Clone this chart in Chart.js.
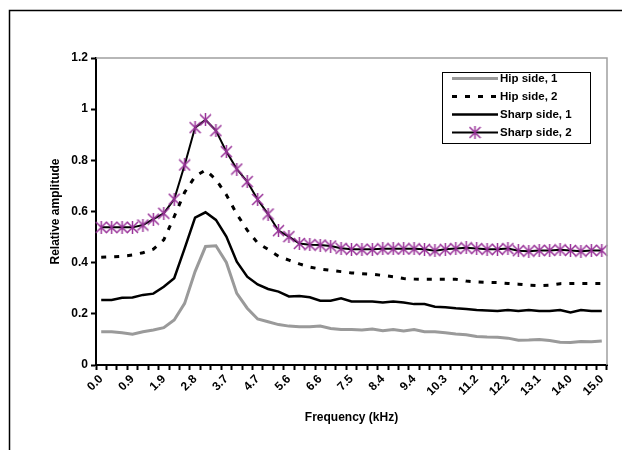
<!DOCTYPE html>
<html>
<head>
<meta charset="utf-8">
<script src="https://cdn.jsdelivr.net/npm/chart.js@4"></script>
<style>
  html, body { margin: 0; padding: 0; background: #fff; }
  #wrap { width: 622px; height: 450px; position: relative; }
</style>
</head>
<body>
<div id="wrap"><canvas id="chart"></canvas></div>
<script>
// ─── data ────────────────────────────────────────────────────
const categories = [
    '0.0', '0.3', '0.6', '0.9', '1.3', '1.6', '1.9', '2.2', '2.5', '2.8',
    '3.1', '3.4', '3.7', '4.1', '4.4', '4.7', '5.0', '5.3', '5.6', '5.9',
    '6.3', '6.6', '6.9', '7.2', '7.5', '7.8', '8.1', '8.4', '8.8', '9.1',
    '9.4', '9.7', '10.0', '10.3', '10.6', '10.9', '11.2', '11.6', '11.9', '12.2',
    '12.5', '12.8', '13.1', '13.4', '13.8', '14.0', '14.4', '14.7', '15.0'
];

const hipSide1 = [
    0.130, 0.130, 0.126, 0.120, 0.130, 0.137, 0.146, 0.176, 0.241, 0.365,
    0.463, 0.466, 0.401, 0.280, 0.222, 0.180, 0.169, 0.158, 0.152, 0.150,
    0.150, 0.152, 0.143, 0.139, 0.139, 0.137, 0.141, 0.134, 0.139, 0.133,
    0.139, 0.130, 0.130, 0.126, 0.121, 0.118, 0.111, 0.109, 0.108, 0.105,
    0.097, 0.098, 0.100, 0.096, 0.089, 0.088, 0.092, 0.091, 0.094
];

const hipSide2 = [
    0.421, 0.423, 0.425, 0.430, 0.439, 0.453, 0.489, 0.580, 0.675, 0.737,
    0.762, 0.725, 0.665, 0.590, 0.527, 0.477, 0.452, 0.425, 0.410, 0.395,
    0.383, 0.375, 0.370, 0.365, 0.360, 0.357, 0.355, 0.350, 0.345, 0.338,
    0.336, 0.335, 0.335, 0.335, 0.335, 0.328, 0.325, 0.323, 0.322, 0.319,
    0.316, 0.312, 0.310, 0.312, 0.318, 0.319, 0.319, 0.319, 0.319
];

const sharpSide1 = [
    0.254, 0.254, 0.263, 0.264, 0.274, 0.279, 0.306, 0.339, 0.456, 0.576,
    0.597, 0.567, 0.502, 0.404, 0.345, 0.315, 0.297, 0.287, 0.268, 0.270,
    0.265, 0.251, 0.251, 0.261, 0.248, 0.248, 0.248, 0.244, 0.248, 0.244,
    0.238, 0.238, 0.228, 0.226, 0.222, 0.219, 0.215, 0.213, 0.211, 0.215,
    0.211, 0.215, 0.211, 0.211, 0.215, 0.205, 0.215, 0.211, 0.211
];

const sharpSide2 = [
    0.538, 0.538, 0.538, 0.538, 0.547, 0.570, 0.593, 0.648, 0.782, 0.928,
    0.958, 0.916, 0.834, 0.766, 0.717, 0.647, 0.590, 0.525, 0.502, 0.475,
    0.470, 0.469, 0.465, 0.456, 0.452, 0.452, 0.452, 0.454, 0.454, 0.454,
    0.454, 0.452, 0.447, 0.452, 0.455, 0.458, 0.455, 0.452, 0.452, 0.455,
    0.447, 0.445, 0.448, 0.448, 0.450, 0.448, 0.445, 0.448, 0.448
];

const FONT = "'Liberation Sans', Arial, sans-serif";
const PURPLE = '#993399';

// excel-ish star marker: an X with a vertical stroke
function makeStar(size) {
    const c = document.createElement('canvas');
    c.width = size; c.height = size;
    const g = c.getContext('2d');
    const m = size / 2, r = size / 2 - 1;
    g.strokeStyle = PURPLE;
    g.lineWidth = 1.5;
    g.beginPath();
    g.moveTo(m - r, m - r); g.lineTo(m + r, m + r);
    g.moveTo(m + r, m - r); g.lineTo(m - r, m + r);
    g.moveTo(m, 0); g.lineTo(m, size);
    g.stroke();
    return c;
}
const star = makeStar(13);

// frame, plot border and the boxed legend
const decorations = {
    id: 'decorations',
    beforeDraw(chart) {
        const ctx = chart.ctx;
        ctx.save();
        ctx.fillStyle = '#fff';
        ctx.fillRect(0, 0, chart.width, chart.height);
        ctx.strokeStyle = '#000';
        ctx.lineWidth = 1.5;
        ctx.strokeRect(9.5, 10.5, 800, 600);
        ctx.restore();
    },
    afterDatasetsDraw(chart) {
        const ctx = chart.ctx;
        const a = chart.chartArea;
        ctx.save();
        ctx.strokeStyle = '#a0a0a0';
        ctx.lineWidth = 1.5;
        ctx.beginPath();
        ctx.moveTo(a.left, a.top);
        ctx.lineTo(a.right, a.top);
        ctx.lineTo(a.right, a.bottom);
        ctx.stroke();

        // legend
        const bx = 442, by = 72, bw = 148, bh = 71;
        ctx.fillStyle = '#fff';
        ctx.fillRect(bx, by, bw, bh);
        ctx.strokeStyle = '#000';
        ctx.lineWidth = 1;
        ctx.strokeRect(bx + 0.5, by + 0.5, bw, bh);
        ctx.font = 'bold 11.5px ' + FONT;
        ctx.textBaseline = 'middle';
        chart.data.datasets.forEach((ds, i) => {
            const y = by + 6.5 + i * 18;
            ctx.save();
            ctx.strokeStyle = ds.borderColor;
            ctx.lineWidth = ds.borderWidth;
            ctx.setLineDash(ds.borderDash || []);
            ctx.beginPath();
            ctx.moveTo(bx + 10, y);
            ctx.lineTo(bx + 56, y);
            ctx.stroke();
            ctx.restore();
            if (ds.pointRadius > 0) {
                ctx.drawImage(star, bx + 33 - star.width / 2, y - star.height / 2);
            }
            ctx.fillStyle = '#000';
            ctx.fillText(ds.label, bx + 58, y);
        });
        ctx.restore();
    }
};

const axisFont = { family: FONT, size: 12, weight: 'bold' };

new Chart(document.getElementById('chart'), {
    type: 'line',
    data: {
        labels: categories,
        datasets: [
            {
                label: 'Hip side, 1',
                data: hipSide1,
                borderColor: '#9a9a9a',
                borderWidth: 3,
                pointRadius: 0,
            },
            {
                label: 'Hip side, 2',
                data: hipSide2,
                borderColor: '#000',
                borderWidth: 3,
                borderDash: [5, 8],
                pointRadius: 0,
            },
            {
                label: 'Sharp side, 1',
                data: sharpSide1,
                borderColor: '#000',
                borderWidth: 2.5,
                pointRadius: 0,
            },
            {
                label: 'Sharp side, 2',
                data: sharpSide2,
                borderColor: '#000',
                borderWidth: 2,
                pointStyle: star,
                pointRadius: 6,
            },
        ],
    },
    options: {
        responsive: true,
        maintainAspectRatio: false,
        animation: false,
        layout: { padding: { top: 58, right: 15, left: 0, bottom: 0 } },
        elements: { line: { tension: 0, borderCapStyle: 'butt' } },
        plugins: {
            legend: { display: false },
            tooltip: { enabled: false },
        },
        scales: {
            x: {
                type: 'category',
                offset: true,
                afterFit: (s) => { s.height = 85; },
                border: { color: '#000', width: 2 },
                grid: {
                    offset: true,
                    drawOnChartArea: false,
                    drawTicks: true,
                    tickLength: 5,
                    tickWidth: 2,
                    tickColor: '#000',
                    color: '#000',
                },
                ticks: {
                    autoSkip: false,
                    minRotation: 45,
                    maxRotation: 45,
                    padding: 2,
                    color: '#000',
                    font: axisFont,
                    callback: function (val, idx) {
                        return idx % 3 === 0 ? this.getLabelForValue(val) : '';
                    },
                },
                title: {
                    display: true,
                    text: 'Frequency (kHz)',
                    color: '#000',
                    font: axisFont,
                    padding: { top: 0, bottom: 25 },
                },
            },
            y: {
                min: 0,
                max: 1.2,
                afterFit: (s) => { s.width = 96; },
                border: { color: '#000', width: 2 },
                grid: {
                    drawOnChartArea: false,
                    drawTicks: true,
                    tickLength: 5,
                    tickWidth: 2,
                    tickColor: '#000',
                    color: '#000',
                },
                ticks: {
                    stepSize: 0.2,
                    padding: 3,
                    color: '#000',
                    font: axisFont,
                    callback: (v) => String(+v.toFixed(1)),
                },
                title: {
                    display: true,
                    text: 'Relative amplitude',
                    color: '#000',
                    font: axisFont,
                    padding: { top: 48, bottom: 0 },
                },
            },
        },
    },
    plugins: [decorations],
});
</script>
</body>
</html>
